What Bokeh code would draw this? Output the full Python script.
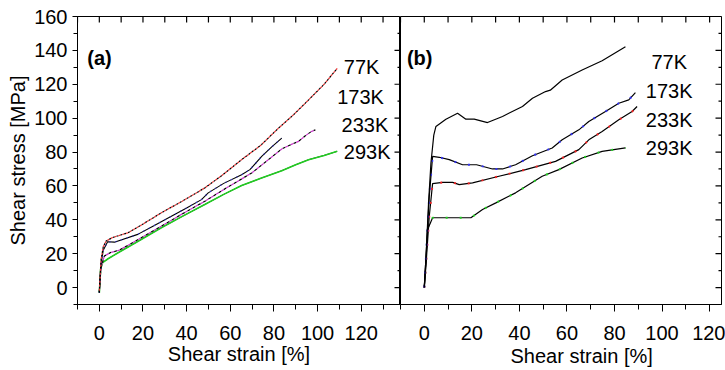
from bokeh.plotting import figure
from bokeh.layouts import row
from bokeh.models import (Range1d, LinearAxis, SingleIntervalTicker,
                          ColumnDataSource, Label, Title)
from bokeh.core.properties import value
from bokeh.embed import file_html
from bokeh.resources import INLINE

FONT = "Liberation Sans"

# ---------------- data: panel (a) ----------------
a77_x = [0, 0.3, 0.8, 1.8, 3.1, 6, 13.0, 20, 28.4, 38, 48.3, 56, 65.2, 74, 82.1, 89, 95.9, 103, 109]
a77_y = [-3, 5, 16.6, 24, 27.4, 29.5, 32.3, 37.5, 44.1, 51, 58.8, 66, 75.5, 84, 94.1, 102, 110.8, 120, 129.4]

a173_x = [0, 0.3, 0.8, 1.8, 3.8, 6.9, 17.6, 25, 33, 40, 46.8, 49.9, 57, 65.2, 69, 74.4, 79, 83.6]
a173_y = [-3, 5, 14, 22, 27.0, 26.8, 31.4, 36.5, 42.1, 47, 51.9, 55.9, 61.5, 66.6, 69.6, 77.4, 83, 88.2]

a233_x = [0, 0.3, 0.8, 2.3, 5, 9.2, 18, 28.4, 38, 48.3, 59.1, 69.8, 77, 83.6, 88, 91.3, 94.4, 97, 99]
a233_y = [-3, 4, 12, 18.6, 20.6, 22.1, 28.5, 36.2, 43.5, 50.9, 59.5, 67.6, 75, 81.8, 84.5, 86.3, 89.6, 92, 93.1]

a293_x = [0, 0.3, 0.6, 1.5, 4, 9.2, 18, 28.4, 38, 48.3, 57, 65.2, 74, 83.6, 90, 95.9, 103, 109]
a293_y = [-3, 4, 11, 14.7, 17, 21, 27.5, 35.3, 42, 49, 55, 60.2, 64.5, 69, 72.5, 75.5, 78, 80.4]

a_labels = ["77K", "173K", "233K", "293K"]
a_label_x = [112, 109, 111, 112]
a_label_y = [130, 112.5, 96, 80.2]

# ---------------- data: panel (b) ----------------
b77_x = [0, 0.8, 1.8, 2.8, 4.0, 4.9, 9.1, 14, 17.5, 21, 26.6, 32.9, 41.3, 45.5, 51, 53, 58, 66.4, 74.8, 84.6]
b77_y = [0, 20, 50, 73.5, 90, 95.1, 99.4, 102.9, 99.4, 99.4, 97.4, 101, 106.9, 111.7, 115.7, 116.5, 122.5, 128.4, 133.9, 142.1]

b173_x = [0, 0.8, 2.1, 3.5, 6.3, 10.5, 16.1, 22, 28.7, 32.9, 38.4, 45.5, 53.8, 58, 65, 69.2, 76.2, 81.8, 86, 88.8]
b173_y = [0, 20, 53.9, 77.4, 76.9, 75.5, 72.5, 72.5, 70, 70, 72.5, 77.8, 82.4, 87.2, 93.1, 98, 103.9, 108.8, 110.8, 115.1]

b233_x = [0, 0.8, 2.1, 3.5, 7.7, 11.9, 14.7, 20.3, 31.4, 42.6, 55.2, 65, 69.2, 74.8, 81.8, 87.4, 89.5]
b233_y = [0, 15, 42.1, 61.4, 62.1, 62.1, 60.8, 61.8, 65.7, 69.6, 74.5, 81.4, 87.2, 92.1, 99, 103.9, 106.9]

b293_x = [0, 0.7, 1.4, 3.5, 10.5, 19.6, 24.5, 30.1, 38.4, 49.6, 56.6, 66.4, 74.8, 84.6]
b293_y = [0, 15, 34.3, 41.2, 41.2, 41.2, 46.1, 50, 55.9, 65.7, 69.6, 76.5, 80.4, 82.4]

b_labels = ["77K", "173K", "233K", "293K"]
b_label_x = [103, 103, 103, 103]
b_label_y = [133.3, 116.2, 99, 82.4]

x_title = "Shear strain [%]"
y_title = "Shear stress [MPa]"

# tick positions for the unlabeled inner frame ticks (top and right edges)
x_frame_ticks = list(range(-10, 140, 10))
y_frame_major = list(range(0, 161, 20))
y_frame_minor = list(range(-10, 161, 20))

Y_MIN, Y_MAX = -10, 160


def ticker():
    return SingleIntervalTicker(interval=20, num_minor_ticks=2)


def make_fig(width, xmax, left_border, right_border):
    p = figure(width=width, height=370, x_range=Range1d(-10, xmax), y_range=Range1d(Y_MIN, Y_MAX),
               output_backend="svg", toolbar_location=None,
               x_axis_location=None, y_axis_location=None,
               min_border_left=left_border, min_border_right=right_border,
               min_border_top=16, min_border_bottom=66)
    p.xgrid.visible = False
    p.ygrid.visible = False
    p.outline_line_color = "black"
    p.outline_line_width = 1
    p.background_fill_color = "white"
    p.border_fill_color = "white"
    bottom = LinearAxis(ticker=ticker(), major_tick_out=7, major_tick_in=0,
                        minor_tick_out=5, minor_tick_in=0,
                        major_label_text_font=FONT, major_label_text_font_size="20px",
                        major_label_text_color="black", major_label_standoff=14,
                        axis_line_color="black")
    p.add_layout(bottom, "below")
    # inner ticks on top edge (pointing down) and right edge (pointing left);
    # dash markers centred on the frame edge, the outer half is clipped by the frame
    p.scatter(x=x_frame_ticks, y=Y_MAX, marker="dash", size=12, angle=90, angle_units="deg",
              line_color="black", line_width=1.2)
    p.scatter(x=xmax, y=y_frame_major, marker="dash", size=12,
              line_color="black", line_width=1.2)
    p.scatter(x=xmax, y=y_frame_minor, marker="dash", size=6,
              line_color="black", line_width=1.2)
    return p, bottom


# ---------------- panel (a) ----------------
p1, b1 = make_fig(400, 138, 77, 0)
b1.axis_label = x_title
b1.axis_label_text_font = FONT
b1.axis_label_text_font_size = "20px"
b1.axis_label_text_font_style = "normal"
b1.axis_label_text_color = "black"
b1.axis_label_standoff = 0
left = LinearAxis(ticker=ticker(), major_tick_out=5, major_tick_in=0,
                  minor_tick_out=4, minor_tick_in=0,
                  major_label_text_font=FONT, major_label_text_font_size="20px",
                  major_label_text_color="black",
                  major_label_standoff=5, axis_line_color="black",
                  axis_label=y_title, axis_label_text_font=FONT,
                  axis_label_text_font_size="20px", axis_label_text_font_style="normal",
                  axis_label_text_color="black", axis_label_standoff=2)
p1.add_layout(left, "left")

# 293K green solid
p1.line(a293_x, a293_y, line_color="#1a1a1a", line_width=1.0)
p1.line(a293_x, a293_y, line_color="#22cc22", line_width=1.6)
# 233K magenta / black dashed
p1.line(a233_x, a233_y, line_color="black", line_width=1.2, line_dash="3 3")
p1.line(a233_x, a233_y, line_color="#cc33cc", line_width=1.2, line_dash="3 3", line_dash_offset=3)
# 173K blue dots on black
p1.line(a173_x, a173_y, line_color="black", line_width=1.1)
p1.line(a173_x, a173_y, line_color="#3333dd", line_width=1.3, line_dash="1 5")
# 77K red / black dotted
p1.line(a77_x, a77_y, line_color="black", line_width=1.2, line_dash="2 2")
p1.line(a77_x, a77_y, line_color="#ee3333", line_width=1.2, line_dash="2 2", line_dash_offset=2)

src_a = ColumnDataSource(dict(x=a_label_x, y=a_label_y, t=a_labels))
p1.text(x="x", y="y", text="t", source=src_a, text_font=value(FONT), text_font_size=value("20px"),
        text_align="left", text_baseline="middle", text_color="black")
p1.add_layout(Label(x=-5.5, y=135.5, text="(a)", text_font=FONT, text_font_size="20px",
                    text_font_style="bold", text_baseline="middle", text_align="left",
                    text_color="black"))

# ---------------- panel (b) ----------------
p2, b2 = make_fig(325, 125, 0, 4)

p2.line(b293_x, b293_y, line_color="black", line_width=1.2)
p2.line(b293_x, b293_y, line_color="#22cc22", line_width=2, line_dash="2 12")
p2.line(b233_x, b233_y, line_color="black", line_width=1.2)
p2.line(b233_x, b233_y, line_color="#ee2222", line_width=2, line_dash="2 12")
p2.line(b173_x, b173_y, line_color="black", line_width=1.2)
p2.line(b173_x, b173_y, line_color="#3333ee", line_width=2, line_dash="2 12")
p2.line(b77_x, b77_y, line_color="black", line_width=1.2)

src_b = ColumnDataSource(dict(x=b_label_x, y=b_label_y, t=b_labels))
p2.text(x="x", y="y", text="t", source=src_b, text_font=value(FONT), text_font_size=value("20px"),
        text_align="center", text_baseline="middle", text_color="black")
p2.add_layout(Label(x=-7.3, y=135.5, text="(b)", text_font=FONT, text_font_size="20px",
                    text_font_style="bold", text_baseline="middle", text_align="left",
                    text_color="black"))
p2.add_layout(Title(text=x_title, align="left", offset=110, standoff=0, text_font=FONT,
                    text_font_size="20px", text_font_style="normal", text_color="black"),
              "below")

layout = row(p1, p2)
open("out.html", "w").write(file_html(layout, INLINE))
